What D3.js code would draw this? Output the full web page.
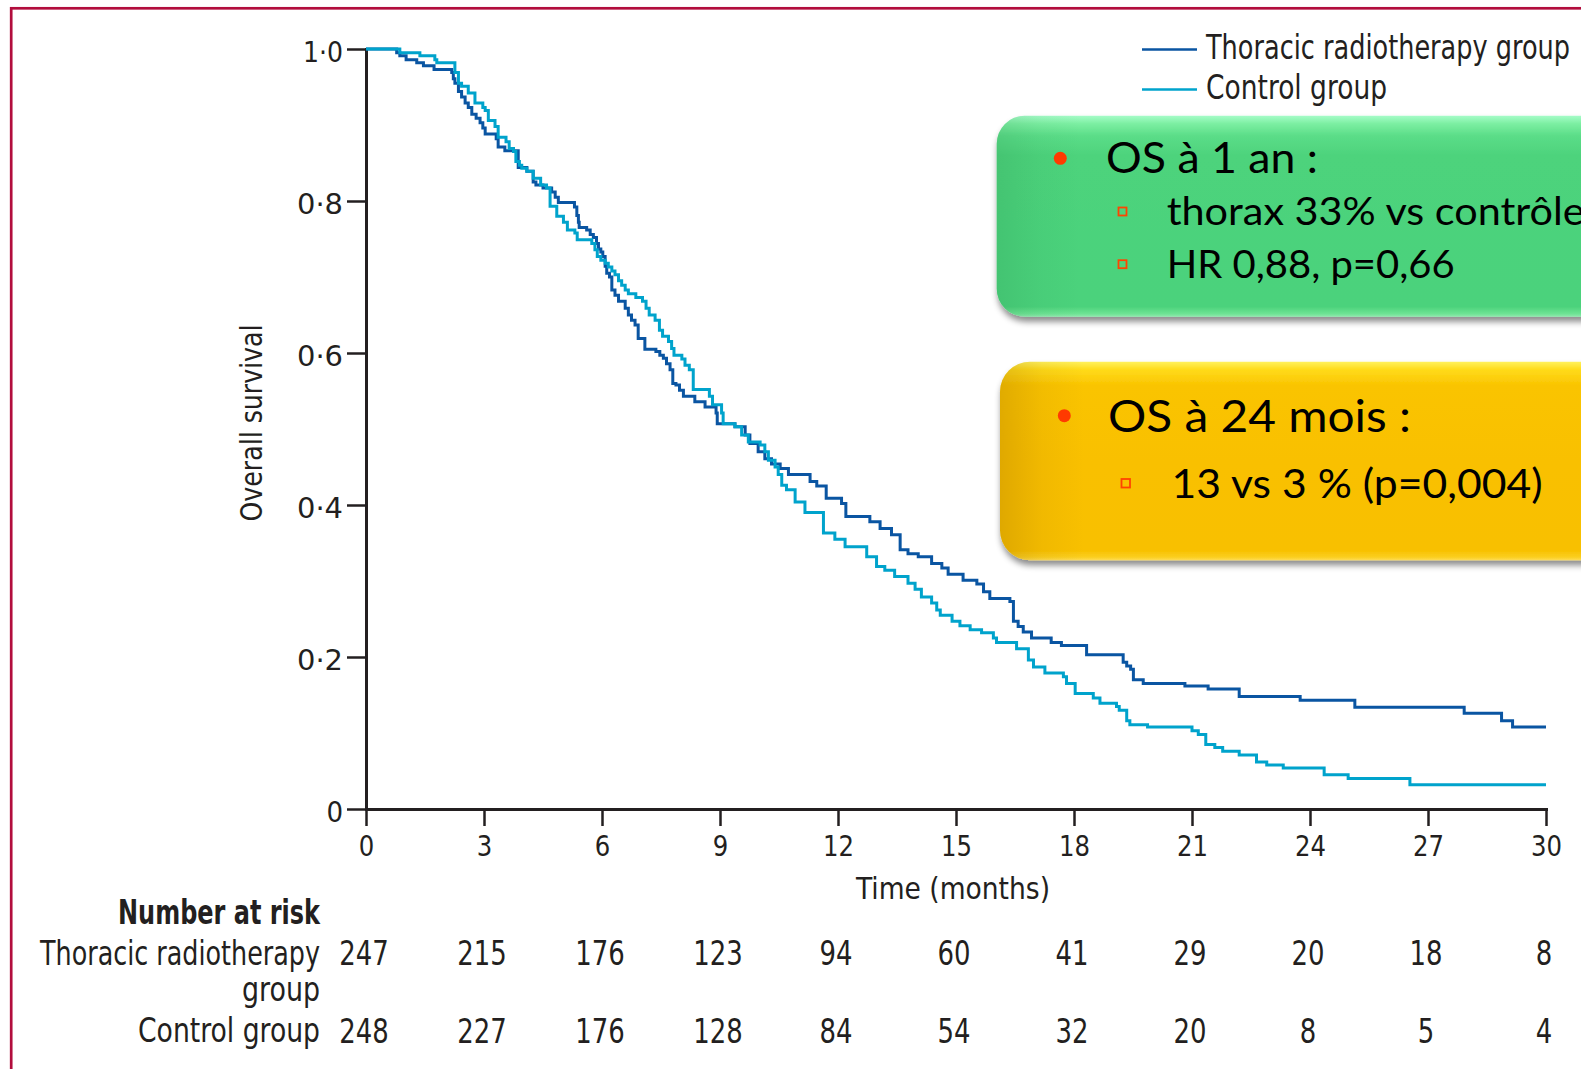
<!DOCTYPE html>
<html>
<head>
<meta charset="utf-8">
<script src="https://cdn.jsdelivr.net/npm/d3@7"></script>
<style>
  body { margin: 0; background: #fff; }
  svg { display: block; }
</style>
</head>
<body>
<svg id="chart" width="1581" height="1069"></svg>
<script>
// ticks
var xTicks = [0, 3, 6, 9, 12, 15, 18, 21, 24, 27, 30];
var yTicks = [0, 0.2, 0.4, 0.6, 0.8, 1.0];

// number at risk, one value per x tick
var riskRadio = [247, 215, 176, 123, 94, 60, 41, 29, 20, 18, 8];
var riskControl = [248, 227, 176, 128, 84, 54, 32, 20, 8, 5, 4];

// kaplan-meier steps: [month, survival after the drop]
var radioSteps = [
    [0, 1.0], [0.78, 0.995], [0.86, 0.991], [1.02, 0.986], [1.29, 0.982], [1.46, 0.978], [1.73, 0.973],
    [2.18, 0.969], [2.22, 0.961], [2.26, 0.955], [2.35, 0.944], [2.43, 0.937], [2.52, 0.929], [2.6, 0.923],
    [2.69, 0.914], [2.8, 0.909], [2.9, 0.903], [2.97, 0.896], [3.03, 0.888], [3.31, 0.882], [3.36, 0.871],
    [3.53, 0.866], [3.87, 0.844], [4.09, 0.839], [4.25, 0.825], [4.32, 0.821], [4.5, 0.817], [4.72, 0.812],
    [4.81, 0.805], [4.89, 0.798], [5.3, 0.792], [5.36, 0.781], [5.4, 0.772], [5.42, 0.765], [5.61, 0.762],
    [5.7, 0.756], [5.78, 0.752], [5.86, 0.744], [5.91, 0.737], [5.97, 0.733], [6.02, 0.727], [6.08, 0.714],
    [6.12, 0.705], [6.19, 0.7], [6.25, 0.683], [6.33, 0.676], [6.42, 0.668], [6.59, 0.659], [6.67, 0.65],
    [6.75, 0.643], [6.84, 0.637], [6.92, 0.619], [7.09, 0.605], [7.37, 0.602], [7.47, 0.597], [7.56, 0.593],
    [7.64, 0.586], [7.73, 0.578], [7.8, 0.56], [7.88, 0.558], [7.97, 0.551], [8.07, 0.543], [8.36, 0.536],
    [8.62, 0.529], [8.9, 0.521], [8.93, 0.507], [9.38, 0.503], [9.64, 0.492], [9.76, 0.481], [9.97, 0.47],
    [10.14, 0.461], [10.31, 0.454], [10.53, 0.448], [10.74, 0.44], [11.29, 0.431], [11.46, 0.425],
    [11.7, 0.409], [12.09, 0.402], [12.2, 0.385], [12.81, 0.378], [13.07, 0.369], [13.36, 0.361],
    [13.58, 0.341], [13.78, 0.336], [14.04, 0.332], [14.38, 0.323], [14.64, 0.317], [14.8, 0.309],
    [15.18, 0.301], [15.53, 0.296], [15.7, 0.286], [15.86, 0.277], [16.37, 0.273], [16.46, 0.247],
    [16.58, 0.24], [16.71, 0.233], [16.92, 0.225], [17.42, 0.219], [17.68, 0.215], [18.32, 0.203],
    [19.25, 0.193], [19.34, 0.188], [19.44, 0.184], [19.51, 0.17], [19.76, 0.165], [20.82, 0.162],
    [21.41, 0.158], [22.2, 0.148], [23.75, 0.143], [25.14, 0.134], [27.92, 0.126], [28.87, 0.116],
    [29.15, 0.108], [30, 0.108]
];
var controlSteps = [
    [0, 1.0], [0.86, 0.995], [1.37, 0.991], [1.75, 0.986], [1.8, 0.982], [2.26, 0.969], [2.35, 0.955],
    [2.43, 0.951], [2.6, 0.942], [2.77, 0.929], [2.97, 0.923], [3.03, 0.919], [3.11, 0.906], [3.28, 0.898],
    [3.36, 0.884], [3.56, 0.878], [3.64, 0.869], [3.75, 0.865], [3.81, 0.852], [3.9, 0.847], [3.96, 0.843],
    [4.09, 0.839], [4.25, 0.83], [4.44, 0.821], [4.59, 0.817], [4.68, 0.793], [4.85, 0.78], [5.02, 0.772],
    [5.12, 0.762], [5.31, 0.758], [5.37, 0.749], [5.74, 0.744], [5.82, 0.736], [5.88, 0.727], [5.97, 0.722],
    [6.08, 0.718], [6.16, 0.713], [6.25, 0.708], [6.33, 0.703], [6.42, 0.695], [6.5, 0.689], [6.59, 0.683],
    [6.67, 0.678], [6.86, 0.673], [7.03, 0.668], [7.12, 0.659], [7.2, 0.65], [7.35, 0.643], [7.46, 0.63],
    [7.54, 0.622], [7.69, 0.615], [7.77, 0.606], [7.83, 0.597], [8.03, 0.592], [8.11, 0.584], [8.22, 0.578],
    [8.32, 0.552], [8.73, 0.543], [8.81, 0.532], [9.04, 0.521], [9.08, 0.507], [9.38, 0.503], [9.55, 0.492],
    [9.72, 0.483], [10.02, 0.479], [10.14, 0.47], [10.23, 0.459], [10.4, 0.45], [10.48, 0.44], [10.57, 0.426],
    [10.69, 0.42], [10.91, 0.404], [11.16, 0.39], [11.63, 0.363], [11.92, 0.355], [12.18, 0.345],
    [12.73, 0.332], [12.98, 0.319], [13.19, 0.314], [13.44, 0.306], [13.78, 0.297], [13.96, 0.289],
    [14.12, 0.279], [14.38, 0.271], [14.51, 0.262], [14.6, 0.255], [14.9, 0.247], [15.1, 0.241],
    [15.36, 0.236], [15.65, 0.232], [15.95, 0.225], [16.03, 0.219], [16.54, 0.211], [16.84, 0.196],
    [16.97, 0.187], [17.26, 0.179], [17.73, 0.174], [17.81, 0.165], [18.03, 0.152], [18.49, 0.146],
    [18.66, 0.139], [19.08, 0.135], [19.15, 0.13], [19.34, 0.116], [19.42, 0.111], [19.87, 0.108],
    [21.0, 0.103], [21.16, 0.098], [21.35, 0.085], [21.58, 0.081], [21.78, 0.076], [22.2, 0.071],
    [22.64, 0.062], [22.9, 0.058], [23.32, 0.054], [24.36, 0.045], [24.97, 0.04], [26.54, 0.032], [30, 0.032]
];

var seriesNames = ["Thoracic radiotherapy group", "Control group"];
var seriesColors = ["#0a55a2", "#00a3cc"];

// slide call-outs
var greenTitle = "OS à 1 an :";
var greenItems = ["thorax 33% vs contrôle", "HR 0,88, p=0,66"];
var yellowTitle = "OS à 24 mois :";
var yellowItems = ["13 vs 3 % (p=0,004)"];

var lancetFont = "'Liberation Sans Narrow', 'DejaVu Sans Condensed', 'Arial Narrow', sans-serif";
var slideFont = "Lato, 'Open Sans', sans-serif";
var ink = "#231f20";

var svg = d3.select("#chart");
var x = d3.scaleLinear().domain([0, 30]).range([366, 1546]);
var y = d3.scaleLinear().domain([0, 1]).range([809, 49]);

// red frame of the slide
svg.append("rect")
    .attr("x", 11.2).attr("y", 8.3)
    .attr("width", 1700).attr("height", 1200)
    .attr("fill", "none")
    .attr("stroke", "#b20d3d")
    .attr("stroke-width", 2.7);

// squeeze a label to the width it has in the figure
function fit(sel, w) {
    return sel.attr("textLength", w).attr("lengthAdjust", "spacingAndGlyphs");
}

function styleAxis(g) {
    g.attr("font-family", lancetFont).attr("font-size", 29).style("color", ink);
    g.select(".domain").attr("stroke-width", 3).attr("stroke-linecap", "square");
    g.selectAll(".tick line").attr("stroke-width", 2.5);
}

// axes
var yAxis = d3.axisLeft(y).tickValues(yTicks).tickSize(19).tickSizeOuter(0).tickPadding(4)
    .tickFormat(function(d) { return d === 0 ? "0" : d3.format(".1f")(d).replace(".", "·"); });
var gy = svg.append("g").attr("transform", "translate(366,0)").call(yAxis);
styleAxis(gy);
gy.selectAll(".tick text").attr("dy", "0.42em")
    .each(function(d) { if (d !== 0) fit(d3.select(this), d === 1 ? 40 : 46); });

var xAxis = d3.axisBottom(x).tickValues(xTicks).tickSize(17).tickSizeOuter(0).tickPadding(9);
var gx = svg.append("g").attr("transform", "translate(0,809)").call(xAxis);
styleAxis(gx);
gx.selectAll(".tick text").each(function(d) { fit(d3.select(this), String(d).length * 15.5); });

// axis titles
fit(svg.append("text")
    .attr("x", 953).attr("y", 899)
    .attr("text-anchor", "middle")
    .attr("font-family", lancetFont).attr("font-size", 31).attr("fill", ink)
    .text("Time (months)"), 194);

fit(svg.append("text")
    .attr("transform", "translate(262,423) rotate(-90)")
    .attr("text-anchor", "middle")
    .attr("font-family", lancetFont).attr("font-size", 31).attr("fill", ink)
    .text("Overall survival"), 197);

// survival curves
var line = d3.line()
    .x(function(d) { return x(d[0]); })
    .y(function(d) { return y(d[1]); })
    .curve(d3.curveStepAfter);

[radioSteps, controlSteps].forEach(function(steps, i) {
    svg.append("path")
        .datum(steps)
        .attr("d", line)
        .attr("fill", "none")
        .attr("stroke", seriesColors[i])
        .attr("stroke-width", 3);
});

// legend
var legendW = [364, 181];
seriesNames.forEach(function(name, i) {
    var ly = 49.5 + i * 40;
    svg.append("line")
        .attr("x1", 1142).attr("x2", 1197)
        .attr("y1", ly).attr("y2", ly)
        .attr("stroke", seriesColors[i])
        .attr("stroke-width", 2.6);
    fit(svg.append("text")
        .attr("x", 1206).attr("y", ly + 9)
        .attr("font-family", lancetFont).attr("font-size", 34).attr("fill", ink)
        .text(name), legendW[i]);
});

// number at risk table
fit(svg.append("text")
    .attr("x", 320).attr("y", 924)
    .attr("text-anchor", "end").attr("font-weight", "bold")
    .attr("font-family", lancetFont).attr("font-size", 33).attr("fill", ink)
    .text("Number at risk"), 202);

var rowLabels = [["Thoracic radiotherapy", 965, 280], ["group", 1001, 78], ["Control group", 1042, 182]];
rowLabels.forEach(function(r) {
    fit(svg.append("text")
        .attr("x", 320).attr("y", r[1])
        .attr("text-anchor", "end")
        .attr("font-family", lancetFont).attr("font-size", 33).attr("fill", ink)
        .text(r[0]), r[2]);
});

[[riskRadio, 965], [riskControl, 1043]].forEach(function(row) {
    svg.append("g").selectAll("text")
        .data(row[0])
        .enter().append("text")
        .attr("x", function(d, i) { return x(xTicks[i]) - 2; })
        .attr("y", row[1])
        .attr("text-anchor", "middle")
        .attr("font-family", lancetFont).attr("font-size", 34).attr("fill", ink)
        .attr("textLength", function(d) { return String(d).length * 16.5; })
        .attr("lengthAdjust", "spacingAndGlyphs")
        .text(function(d) { return d; });
});

// call-out boxes
var defs = svg.append("defs");
var shadow = defs.append("filter").attr("id", "shadow")
    .attr("x", "-10%").attr("y", "-10%").attr("width", "130%").attr("height", "130%");
shadow.append("feDropShadow")
    .attr("dx", 1).attr("dy", 5).attr("stdDeviation", 3)
    .attr("flood-color", "#000").attr("flood-opacity", 0.45);

function gradient(id, stops, horizontal) {
    var g = defs.append("linearGradient").attr("id", id)
        .attr("x1", 0).attr("y1", 0)
        .attr("x2", horizontal ? 1 : 0).attr("y2", horizontal ? 0 : 1);
    stops.forEach(function(s) {
        g.append("stop").attr("offset", s[0]).attr("stop-color", s[1]).attr("stop-opacity", s[2] === undefined ? 1 : s[2]);
    });
}
gradient("greenFill", [[0, "#a6fcc8"], [0.04, "#7cefa2"], [0.1, "#5bdd88"], [0.2, "#4dd37c"],
    [0.95, "#4bd27b"], [0.985, "#6ee394"], [1, "#8fe9ad"]]);
gradient("yellowFill", [[0, "#fff25c"], [0.04, "#ffdb1a"], [0.12, "#fac400"], [0.5, "#f9c000"],
    [0.95, "#f8c000"], [0.985, "#fbcf20"], [1, "#ffdc55"]]);
gradient("edgeShade", [[0, "#7a4a00", 0.2], [0.06, "#7a4a00", 0.06], [0.12, "#7a4a00", 0]], true);
gradient("edgeShadeG", [[0, "#0a5a28", 0.12], [0.06, "#0a5a28", 0.04], [0.12, "#0a5a28", 0]], true);

function callout(bx, by, bh, fill, shade, title, items, opt) {
    var g = svg.append("g");
    g.append("rect")
        .attr("x", bx).attr("y", by)
        .attr("width", 700).attr("height", bh)
        .attr("rx", opt.r).attr("ry", opt.r)
        .attr("fill", "url(#" + fill + ")")
        .attr("filter", "url(#shadow)");
    g.append("rect")
        .attr("x", bx).attr("y", by)
        .attr("width", 700).attr("height", bh)
        .attr("rx", opt.r).attr("ry", opt.r)
        .attr("fill", "url(#" + shade + ")");
    // round bullet and title
    g.append("circle")
        .attr("cx", opt.dot[0]).attr("cy", opt.dot[1]).attr("r", 6.5)
        .attr("fill", "#ff3a00");
    fit(g.append("text")
        .attr("x", opt.title[0]).attr("y", opt.title[1])
        .attr("font-family", slideFont).attr("font-size", opt.title[3]).attr("fill", "#000")
        .text(title), opt.title[2]);
    // square bullets and sub items
    items.forEach(function(t, i) {
        var it = opt.items[i];
        g.append("rect")
            .attr("x", opt.sq[0]).attr("y", it[1] - opt.sq[1])
            .attr("width", opt.sq[2]).attr("height", opt.sq[2])
            .attr("fill", "none")
            .attr("stroke", "#ff4400")
            .attr("stroke-width", 1.8);
        fit(g.append("text")
            .attr("x", it[0]).attr("y", it[1])
            .attr("font-family", slideFont).attr("font-size", it[3]).attr("fill", "#000")
            .text(t), it[2]);
    });
}

callout(996.7, 115.7, 201, "greenFill", "edgeShadeG", greenTitle, greenItems, {
    r: 28,
    dot: [1060.3, 158.3],
    title: [1106, 172.5, 212, 43],
    sq: [1118.5, 17.5, 8],
    items: [[1166.7, 225, 418, 39], [1166.7, 277.7, 288, 39]]
});
callout(1000, 361.7, 198.5, "yellowFill", "edgeShade", yellowTitle, yellowItems, {
    r: 30,
    dot: [1064.3, 415.7],
    title: [1108, 431.5, 303, 44],
    sq: [1121.5, 19, 8.5],
    items: [[1171.6, 498, 371, 40]]
});
</script>
</body>
</html>
